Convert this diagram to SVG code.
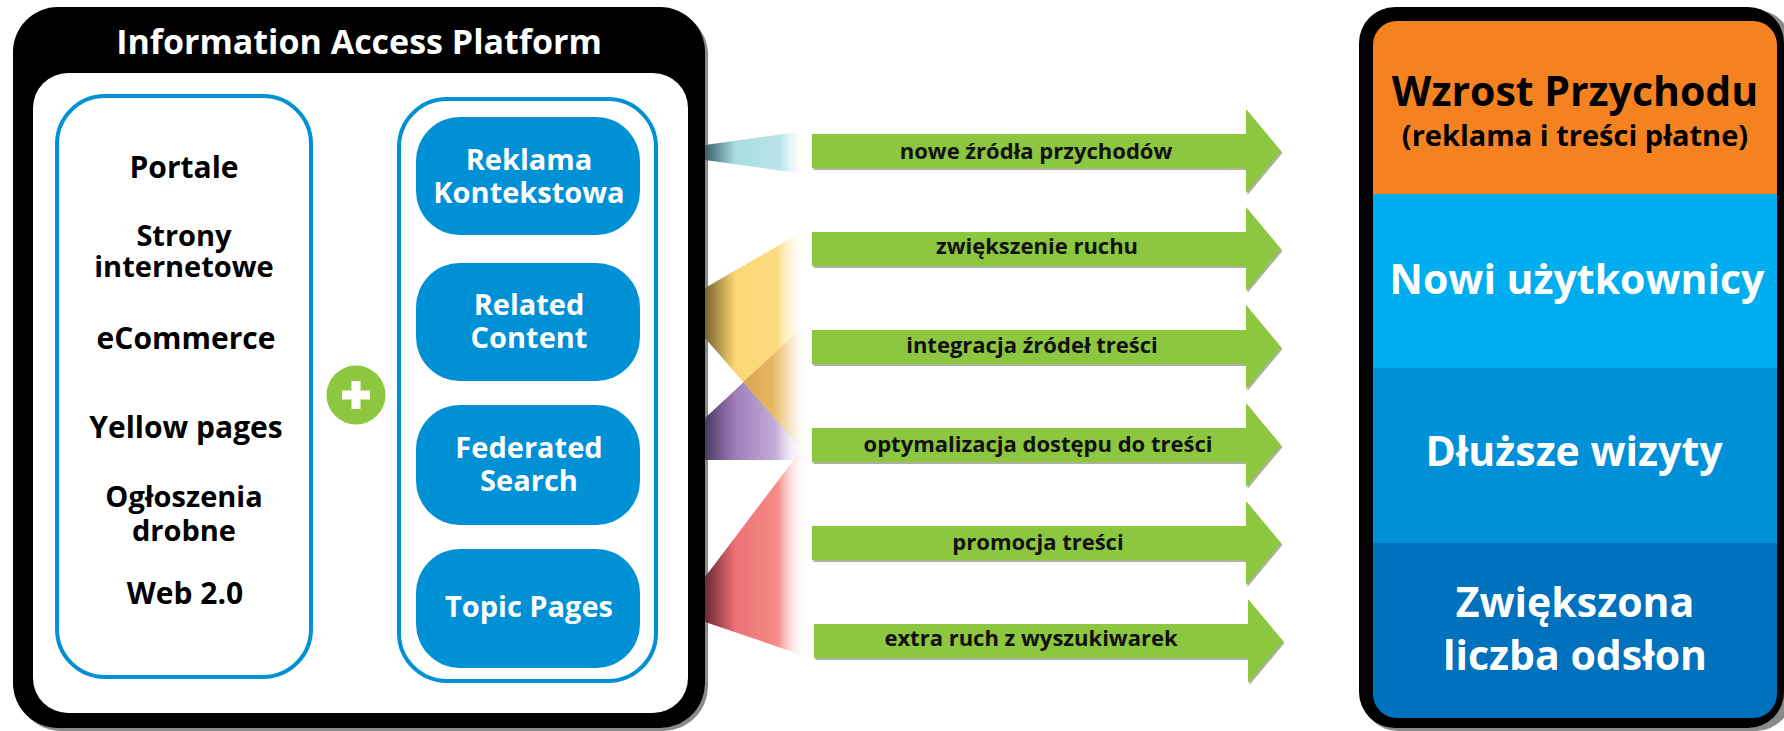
<svg xmlns="http://www.w3.org/2000/svg" width="1784" height="731" viewBox="0 0 1784 731">
<defs>
<style>
.t{font-family:"Open Sans","Liberation Sans",sans-serif;font-weight:700;text-anchor:middle}
.lt{font-size:30px;fill:#000}
.l2{font-size:29px;fill:#000}
.pt{font-size:29px;fill:#fff}
.at{font-size:22px;fill:#111}
.rt{font-size:41px;fill:#fff}
.pill{fill:#0090D5}
.panel{fill:#fff;stroke:#0090D5;stroke-width:4}
.arrow{fill:#8DC63F}
.ashadow{fill:#6f7f5a;opacity:.6}
</style>
<linearGradient id="gCyan" gradientUnits="userSpaceOnUse" x1="705" y1="0" x2="806" y2="0">
<stop offset="0" stop-color="#3A5C66"/><stop offset="0.3" stop-color="#A9DDE3"/><stop offset="0.75" stop-color="#B8E4E8"/><stop offset="1" stop-color="#ffffff" stop-opacity="0"/>
</linearGradient>
<linearGradient id="gYellow" gradientUnits="userSpaceOnUse" x1="705" y1="0" x2="806" y2="0">
<stop offset="0" stop-color="#76632E"/><stop offset="0.3" stop-color="#FCD672"/><stop offset="0.72" stop-color="#FDDC84"/><stop offset="1" stop-color="#ffffff" stop-opacity="0"/>
</linearGradient>
<linearGradient id="gPurple" gradientUnits="userSpaceOnUse" x1="705" y1="0" x2="806" y2="0">
<stop offset="0" stop-color="#4B3A62"/><stop offset="0.3" stop-color="#A07DBA"/><stop offset="0.7" stop-color="#C4ADD8"/><stop offset="1" stop-color="#ffffff" stop-opacity="0"/>
</linearGradient>
<linearGradient id="gOver" gradientUnits="userSpaceOnUse" x1="740" y1="0" x2="806" y2="0">
<stop offset="0" stop-color="#D9A24E"/><stop offset="0.5" stop-color="#E6B766"/><stop offset="1" stop-color="#ffffff" stop-opacity="0"/>
</linearGradient>
<linearGradient id="gRed" gradientUnits="userSpaceOnUse" x1="705" y1="0" x2="806" y2="0">
<stop offset="0" stop-color="#6A2A30"/><stop offset="0.3" stop-color="#EE7076"/><stop offset="0.72" stop-color="#F38D85"/><stop offset="1" stop-color="#ffffff" stop-opacity="0"/>
</linearGradient>
<path id="arr" d="M0,-17 H434 V-42 L469,0 L434,42 V17 H0 Z"/>
<clipPath id="rclip"><rect x="1373" y="21" width="404" height="697" rx="24"/></clipPath>
</defs>

<g id="platform">
<rect x="16" y="10" width="692" height="721" rx="45" fill="#8a8a8a"/>
<rect x="13" y="7" width="692" height="721" rx="45" fill="#000"/>
<rect x="33" y="73" width="655" height="640" rx="35" fill="#fff"/>
<text class="t" x="359" y="54" font-size="34" fill="#fff">Information Access Platform</text>
</g>

<g id="sources">
<rect class="panel" x="57" y="96" width="254" height="581" rx="48"/>
<text class="t lt" x="184" y="178">Portale</text>
<text class="t l2" x="184" y="246">Strony<tspan x="184" dy="31">internetowe</tspan></text>
<text class="t lt" x="186" y="349">eCommerce</text>
<text class="t lt" x="186" y="438">Yellow pages</text>
<text class="t l2" x="184" y="507">Ogłoszenia<tspan x="184" dy="34">drobne</tspan></text>
<text class="t lt" x="185" y="604">Web 2.0</text>
</g>

<g id="plus">
<circle cx="356" cy="395" r="29.5" fill="#8DC63F"/>
<rect x="342" y="390.5" width="28" height="9" fill="#fff"/>
<rect x="351.5" y="381" width="9" height="28" fill="#fff"/>
</g>

<g id="modules">
<rect class="panel" x="399" y="99" width="257" height="582" rx="48"/>
<g id="reklama">
<rect class="pill" x="416" y="117" width="224" height="118" rx="44"/>
<text class="t pt" x="529" y="170">Reklama<tspan x="529" dy="33">Kontekstowa</tspan></text>
</g>
<g id="related">
<rect class="pill" x="416" y="263" width="224" height="118" rx="44"/>
<text class="t pt" x="529" y="315">Related<tspan x="529" dy="33">Content</tspan></text>
</g>
<g id="federated">
<rect class="pill" x="416" y="405" width="224" height="120" rx="44"/>
<text class="t pt" x="529" y="458">Federated<tspan x="529" dy="33">Search</tspan></text>
</g>
<g id="topic">
<rect class="pill" x="416" y="549" width="224" height="119" rx="44"/>
<text class="t pt" x="529" y="617" font-size="30">Topic Pages</text>
</g>
</g>

<g id="connectors">
<g id="fans">
<polygon points="705,145 805,131 805,174 705,160" fill="url(#gCyan)"/>
<polygon points="705,418 805,325 805,460 705,460" fill="url(#gPurple)"/>
<polygon points="705,288 805,230 805,453 705,338" fill="url(#gYellow)"/>
<polygon points="743.3,382 805,325 805,453" fill="url(#gOver)"/>
<polygon points="705,577 805,445 805,656 705,622" fill="url(#gRed)"/>
</g>
<g id="arrows">
<use href="#arr" class="ashadow" transform="translate(813.5,153)"/>
<use href="#arr" class="arrow" transform="translate(812,151)"/>
<text class="t at" x="1036" y="159">nowe źródła przychodów</text>
<use href="#arr" class="ashadow" transform="translate(813.5,251)"/>
<use href="#arr" class="arrow" transform="translate(812,249)"/>
<text class="t at" x="1037" y="254">zwiększenie ruchu</text>
<use href="#arr" class="ashadow" transform="translate(813.5,349)"/>
<use href="#arr" class="arrow" transform="translate(812,347)"/>
<text class="t at" x="1032" y="353">integracja źródeł treści</text>
<use href="#arr" class="ashadow" transform="translate(813.5,447)"/>
<use href="#arr" class="arrow" transform="translate(812,445)"/>
<text class="t at" x="1038" y="452">optymalizacja dostępu do treści</text>
<use href="#arr" class="ashadow" transform="translate(813.5,545)"/>
<use href="#arr" class="arrow" transform="translate(812,543)"/>
<text class="t at" x="1038" y="550">promocja treści</text>
<use href="#arr" class="ashadow" transform="translate(815.5,643)"/>
<use href="#arr" class="arrow" transform="translate(814,641)"/>
<text class="t at" x="1031" y="646">extra ruch z wyszukiwarek</text>
</g>
</g>

<g id="benefits">
<rect x="1362" y="10" width="430" height="721" rx="36" fill="#8a8a8a"/>
<rect x="1359" y="7" width="425" height="721" rx="36" fill="#000"/>
<g clip-path="url(#rclip)">
<rect x="1373" y="21" width="404" height="174" fill="#F58220"/>
<rect x="1373" y="194" width="404" height="174" fill="#00AEEF"/>
<rect x="1373" y="368" width="404" height="175" fill="#0090D8"/>
<rect x="1373" y="543" width="404" height="175" fill="#0071BC"/>
</g>
<text class="t" x="1575" y="106" font-size="41" fill="#000">Wzrost Przychodu<tspan x="1575" dy="40" font-size="29">(reklama i treści płatne)</tspan></text>
<text class="t rt" x="1577" y="294">Nowi użytkownicy</text>
<text class="t rt" x="1574" y="466">Dłuższe wizyty</text>
<text class="t rt" x="1575" y="617">Zwiększona<tspan x="1575" dy="53">liczba odsłon</tspan></text>
</g>
</svg>
